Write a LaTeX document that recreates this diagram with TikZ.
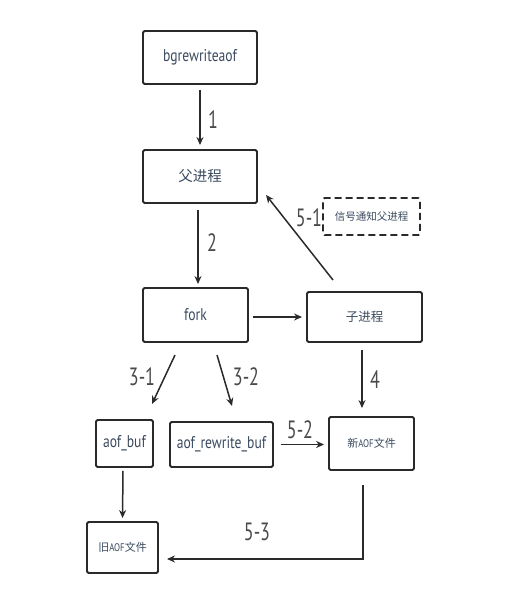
\documentclass[tikz,border=0pt]{standalone}
\usepackage{fontspec}
\setmainfont[FakeStretch=0.8]{PT Sans}
\newfontfamily\cjk{Noto Sans CJK SC}
\newfontfamily\numfont[FakeStretch=0.72]{PT Sans}
\usetikzlibrary{arrows.meta}
\definecolor{ink}{HTML}{2A2A2A}
\definecolor{txt}{HTML}{3A4A5E}
\begin{document}
\begin{tikzpicture}[x=1pt,y=-1pt,
  box/.style={draw=ink,line width=1.9pt,rounded corners=1.5pt,inner sep=0pt,text=txt,font=\fontsize{17}{19}\selectfont},
  dbox/.style={box,dashed,dash pattern=on 7pt off 4pt},
  arr/.style={draw=ink,line width=1.5pt,-{Stealth[length=8pt,width=7pt]}},
  num/.style={text=ink!85,font=\numfont\fontsize{25}{27}\selectfont,inner sep=0pt}]
\useasboundingbox (0,0) rectangle (525,610);
\node[box,minimum width=114pt,minimum height=53pt] (bg) at (200,57.5) {bgrewriteaof};
\node[box,minimum width=114pt,minimum height=53pt,font=\cjk\fontsize{14.5}{16}\selectfont] (fp) at (200,176.5) {父进程};
\node[dbox,minimum width=97pt,minimum height=37pt,font=\cjk\fontsize{10.5}{12}\selectfont] (sig) at (371.5,216.5) {信号通知父进程};
\node[box,minimum width=105pt,minimum height=54pt] (fork) at (195.5,315) {fork};
\node[box,minimum width=115pt,minimum height=50pt,font=\cjk\fontsize{12.5}{14}\selectfont] (child) at (364.5,317) {子进程};
\node[box,minimum width=57pt,minimum height=47pt] (ab) at (124.5,443.5) {aof\_buf};
\node[box,minimum width=103pt,minimum height=45pt] (arb) at (221.5,444.5) {aof\_rewrite\_buf};
\node[box,minimum width=85pt,minimum height=53pt,font=\fontsize{11}{13}\selectfont] (new) at (371.5,443.5) {{\cjk 新}AOF{\cjk 文件}};
\node[box,minimum width=71pt,minimum height=51pt,font=\fontsize{11}{13}\selectfont] (old) at (122.5,547.5) {{\cjk 旧}AOF{\cjk 文件}};
% connector end points
\coordinate (c51s) at (333,280);
\coordinate (c51e) at (266,195);
\coordinate (c31s) at (175,355);
\coordinate (c31e) at (152,404);
\coordinate (c32s) at (217,355);
\coordinate (c32e) at (232,406);
\coordinate (c53s) at (363,485);
\coordinate (c53c) at (363,559);
\coordinate (c53e) at (167,559);
% connectors
\draw[arr,shorten <=5pt,shorten >=4pt] (bg.south) -- (fp.north);
\draw[arr,shorten <=6pt,shorten >=3pt] ([xshift=-2pt]fp.south) -- ([xshift=2.5pt]fork.north);
\draw[arr] (c51s) -- (c51e);
\draw[arr,shorten <=4pt,shorten >=4pt] (fork.east|-child.west) -- (child.west);
\draw[arr] (c31s) -- (c31e);
\draw[arr] (c32s) -- (c32e);
\draw[arr,shorten <=7pt,shorten >=8pt] ([xshift=-2.5pt]child.south) -- ([xshift=-9.5pt]new.north);
\draw[arr,shorten <=7pt,shorten >=4pt] (arb.east) -- (new.west|-arb.east);
\draw[arr,shorten <=3pt,shorten >=3pt] ([xshift=-1.5pt]ab.south) -- (old.north);
\draw[arr] (c53s) -- (c53c) -- (c53e);
% labels
\node[num] (l1) at (213,120) {1};
\node[num] (l2) at (212,243) {2};
\node[num] (l51) at (309,218) {5-1};
\node[num] (l31) at (142,377) {3-1};
\node[num] (l32) at (246,377) {3-2};
\node[num] (l4) at (375,380) {4};
\node[num] (l52) at (300,430) {5-2};
\node[num] (l53) at (257,532) {5-3};
\end{tikzpicture}
\end{document}
